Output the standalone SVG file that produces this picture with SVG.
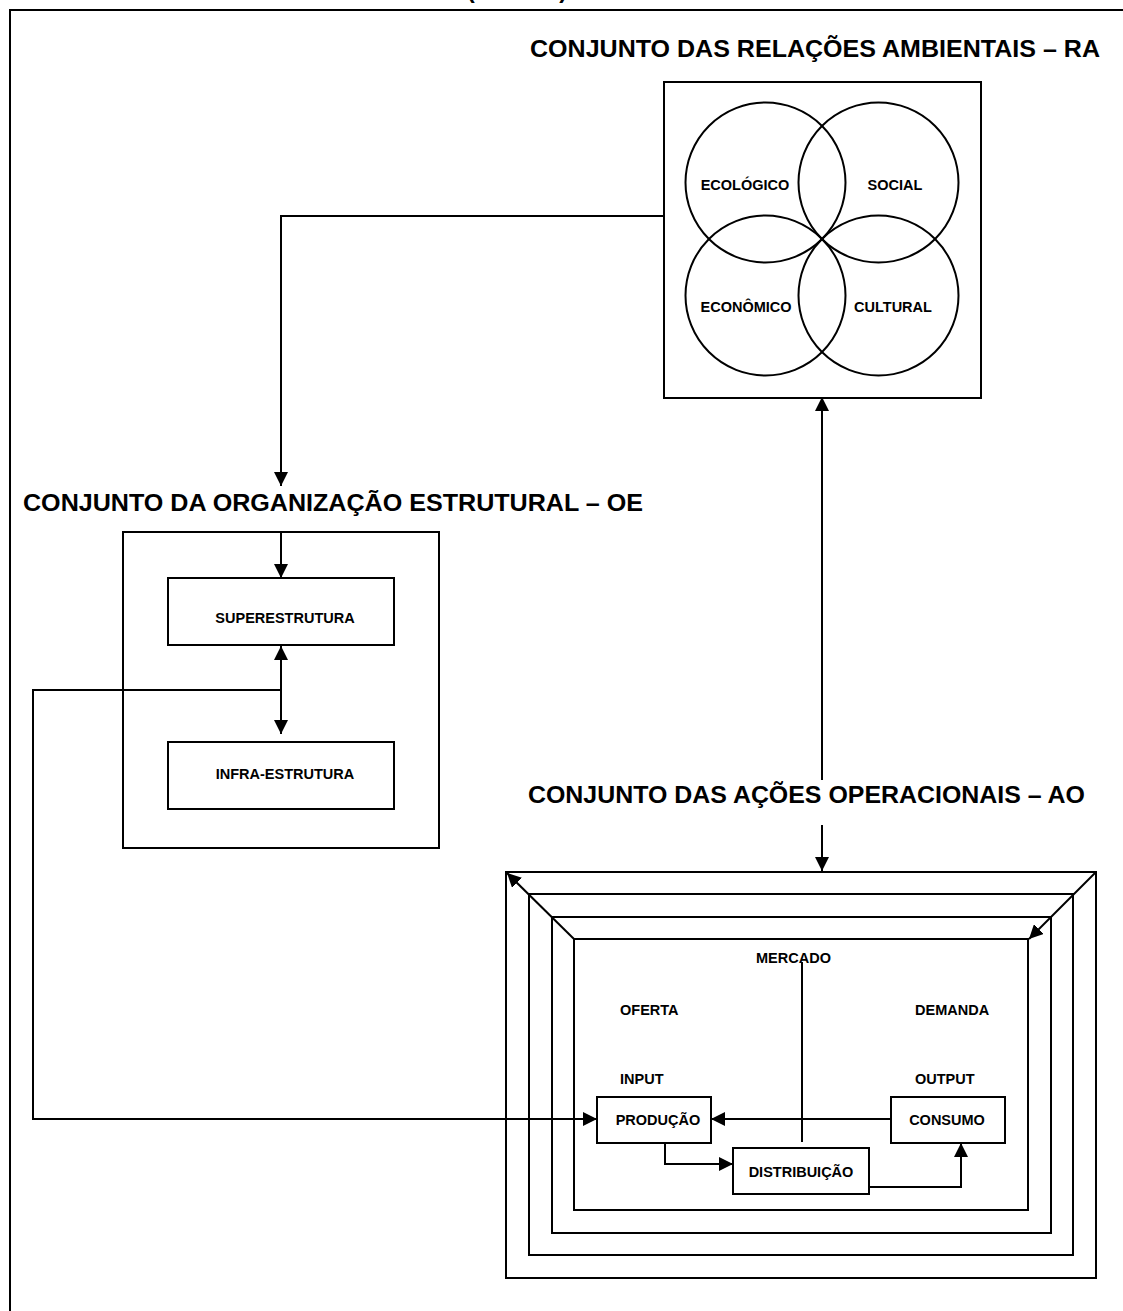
<svg xmlns="http://www.w3.org/2000/svg" width="1123" height="1311" viewBox="0 0 1123 1311">
<style>
.box{fill:none;stroke:#000;stroke-width:2}
.ln{fill:none;stroke:#000;stroke-width:2}
.title{font-family:"Liberation Sans",Arial,sans-serif;font-weight:bold;font-size:24px;fill:#000}
.lbl{font-family:"Liberation Sans",Arial,sans-serif;font-weight:bold;font-size:14.5px;fill:#000}
.c{text-anchor:middle}
</style>
<defs>
<marker id="ah" markerUnits="userSpaceOnUse" markerWidth="15" markerHeight="14" refX="14" refY="7" orient="auto-start-reverse" viewBox="0 0 15 14">
<path d="M0,0 L14,7 L0,14 z" fill="#000"/>
</marker>
</defs>
<rect width="1123" height="1311" fill="#fff"/>
<g id="frame">
<path class="ln" d="M10,1311 V10 H1123"/>
<text class="title" x="467" y="-2" textLength="100" lengthAdjust="spacingAndGlyphs">(SISTUR)</text>
</g>
<g id="ra">
<text class="title" x="530" y="57" textLength="570" lengthAdjust="spacingAndGlyphs">CONJUNTO DAS RELAÇÕES AMBIENTAIS – RA</text>
<rect class="box" x="664" y="82" width="317" height="316"/>
<circle class="box" cx="765.5" cy="182.5" r="80"/>
<circle class="box" cx="878.5" cy="182.5" r="80"/>
<circle class="box" cx="765.5" cy="295.5" r="80"/>
<circle class="box" cx="878.5" cy="295.5" r="80"/>
<text class="lbl c" x="745" y="190">ECOLÓGICO</text>
<text class="lbl c" x="895" y="190">SOCIAL</text>
<text class="lbl c" x="746" y="312">ECONÔMICO</text>
<text class="lbl c" x="893" y="312">CULTURAL</text>
</g>
<g id="oe">
<text class="title" x="23" y="511" textLength="620" lengthAdjust="spacingAndGlyphs">CONJUNTO DA ORGANIZAÇÃO ESTRUTURAL – OE</text>
<rect class="box" x="123" y="532" width="316" height="316"/>
</g>
<g id="superestrutura">
<rect class="box" x="168" y="578" width="226" height="67"/>
<text class="lbl c" x="285" y="623">SUPERESTRUTURA</text>
</g>
<g id="infraestrutura">
<rect class="box" x="168" y="742" width="226" height="67"/>
<text class="lbl c" x="285" y="779">INFRA-ESTRUTURA</text>
</g>
<g id="ao">
<text class="title" x="528" y="803" textLength="557" lengthAdjust="spacingAndGlyphs">CONJUNTO DAS AÇÕES OPERACIONAIS – AO</text>
<rect class="box" x="506" y="872" width="590" height="406"/>
<rect class="box" x="529" y="894" width="544" height="361"/>
<rect class="box" x="552" y="917" width="499" height="316"/>
<rect class="box" x="574" y="939" width="454" height="271"/>
<text class="lbl" x="756" y="963">MERCADO</text>
<text class="lbl" x="620" y="1015">OFERTA</text>
<text class="lbl" x="915" y="1015">DEMANDA</text>
<text class="lbl" x="620" y="1084">INPUT</text>
<text class="lbl" x="915" y="1084">OUTPUT</text>
</g>
<g id="producao">
<rect class="box" x="597" y="1097" width="114" height="46"/>
<text class="lbl c" x="658" y="1125">PRODUÇÃO</text>
</g>
<g id="consumo">
<rect class="box" x="891" y="1097" width="114" height="46"/>
<text class="lbl c" x="947" y="1125">CONSUMO</text>
</g>
<g id="distribuicao">
<rect class="box" x="733" y="1148" width="136" height="46"/>
<text class="lbl c" x="801" y="1177">DISTRIBUIÇÃO</text>
</g>
<g id="connectors">
<path class="ln" d="M664,216 H281 V486" marker-end="url(#ah)"/>
<path class="ln" d="M281,532 V578" marker-end="url(#ah)"/>
<path class="ln" d="M281,646 V734" marker-start="url(#ah)" marker-end="url(#ah)"/>
<path class="ln" d="M281,690 H33 V1119 H597" marker-end="url(#ah)"/>
<path class="ln" d="M822,780 V397" marker-end="url(#ah)"/>
<path class="ln" d="M822,825 V871" marker-end="url(#ah)"/>
<path class="ln" d="M574,939 L507,873" marker-end="url(#ah)"/>
<path class="ln" d="M1096,872 L1029,939" marker-end="url(#ah)"/>
<path class="ln" d="M891,1119 H711" marker-end="url(#ah)"/>
<path class="ln" d="M802,962 V1142"/>
<path class="ln" d="M665,1143 V1164 H733" marker-end="url(#ah)"/>
<path class="ln" d="M869,1187 H961 V1143" marker-end="url(#ah)"/>
</g>
</svg>
